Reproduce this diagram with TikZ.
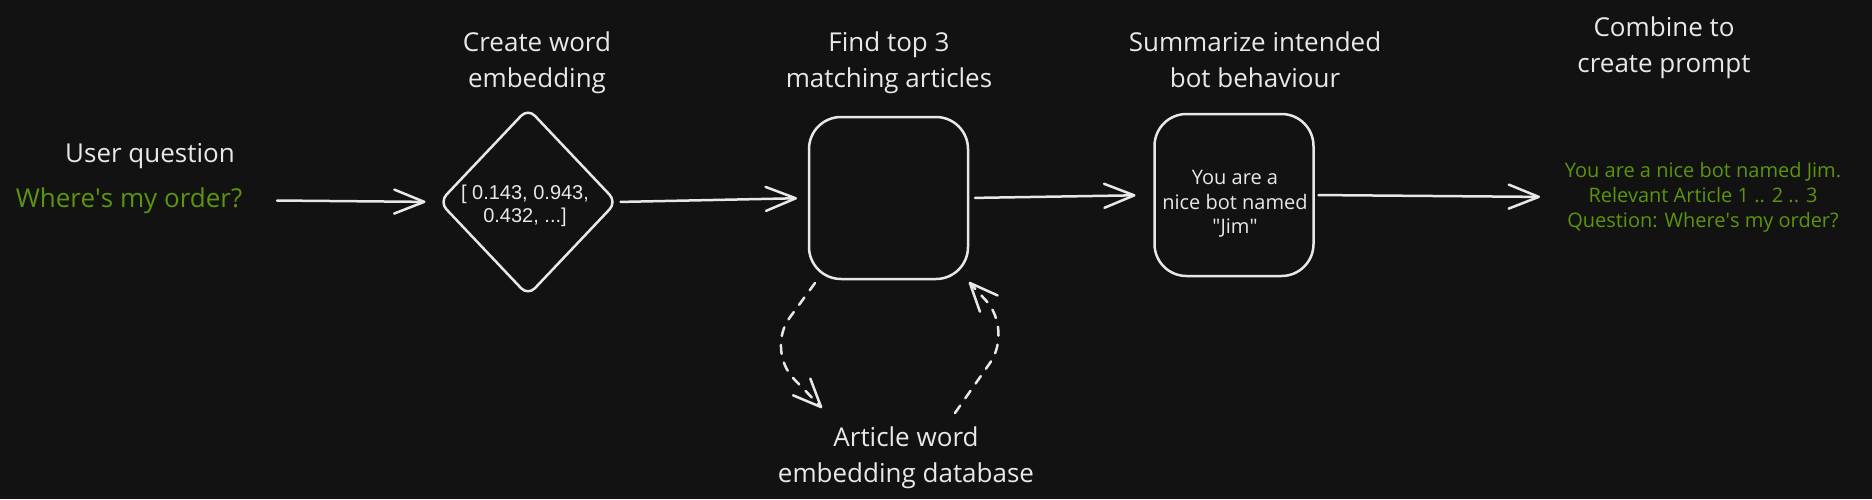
\documentclass[tikz,border=0pt]{standalone}
\usepackage{fontspec}
\setmainfont{Open Sans}
\newfontfamily\arialfont{Liberation Sans}
\usetikzlibrary{arrows.meta,shapes.geometric,calc}
\definecolor{bg}{HTML}{121212}
\definecolor{fg}{HTML}{E8E8E8}
\definecolor{grn}{HTML}{5C940D}
\begin{document}
\begin{tikzpicture}[x=1pt,y=-1pt,
  every node/.style={text=fg, inner sep=0pt, outer sep=0pt},
  title/.style={font=\fontsize{26}{36}\selectfont, align=center},
  greentext/.style={text=grn},
  shapeline/.style={draw=fg, line width=2.5pt},
  boxnode/.style={shapeline, rectangle, rounded corners=32pt, minimum width=159pt, minimum height=162pt},
  arr/.style={draw=fg, line width=2.5pt, line cap=round, -{Straight Barb[length=30pt,width=24pt,line cap=round,line join=round]}},
  darr/.style={draw=fg, line width=2.5pt, line cap=round, dash pattern=on 9pt off 9pt, rounded corners=40pt, -{Straight Barb[length=28pt,width=24pt,line cap=round,line join=round]}}
]
\fill[bg] (0,0) rectangle (1872,499);
\useasboundingbox (0,0) rectangle (1872,499);

% titles
\node[title, anchor=base] (tuser) at (150,162) {User question};
\node[title, greentext, anchor=base, minimum width=238pt] (quser) at (129,207) {Where\textquotesingle s my order?};
\node[title] (temb) at (537,63) {Create word\\embedding};
\node[title] (tfind) at (889,63) {Find top 3\\matching articles};
\node[title] (tsum) at (1255,60) {Summarize intended\\bot behaviour};
\node[title] (tcomb) at (1664,48) {Combine to\\create prompt};
\node[title] (db) at (906,458) {Article word\\embedding database};

% shapes
\node[shapeline, diamond, rounded corners=10pt, minimum width=177pt, minimum height=187pt] (diam) at (528,202) {};
\node[font=\arialfont\fontsize{20}{23}\selectfont, align=center] (embtext) at (525,206) {[ 0.143, 0.943,\\0.432, ...]};
\node[boxnode] (box1) at (888.5,198) {};
\node[boxnode] (box2) at (1234,195) {};
\node[font=\fontsize{20}{24.5}\selectfont, align=center] (bottext) at (1235,204) {You are a\\nice bot named\\\textquotedbl Jim\textquotedbl};
\node[greentext, font=\fontsize{20}{25}\selectfont, align=center, minimum width=300pt] (prompt) at (1703,197)
  {You are a nice bot named Jim.\\Relevant Article 1 .. 2 .. 3\\Question: Where\textquotesingle s my order?};

% connectors
\draw[arr, shorten <=29pt, shorten >=14pt] (quser.east) -- (diam.west);
\draw[arr, shorten <=4pt, shorten >=12pt] (diam.east) -- (box1.west);
\draw[arr, shorten <=7pt, shorten >=19pt] (box1.east) -- (box2.west);
\draw[arr, shorten <=5pt, shorten >=13pt] (box2.east) -- (prompt.west);

% dashed loop to database
\coordinate (d1a) at ($(box1.south west)+(6,4)$);
\coordinate (d1b) at (766,350);
\coordinate (dbin) at (822,408);
\coordinate (dbout) at (955,413);
\coordinate (d2b) at (1013,330);
\coordinate (d2c) at ($(box1.south east)+(1,3)$);
\draw[darr] (d1a) -- (d1b) -- (dbin);
\draw[darr] (dbout) -- (d2b) -- (d2c);
\end{tikzpicture}
\end{document}
